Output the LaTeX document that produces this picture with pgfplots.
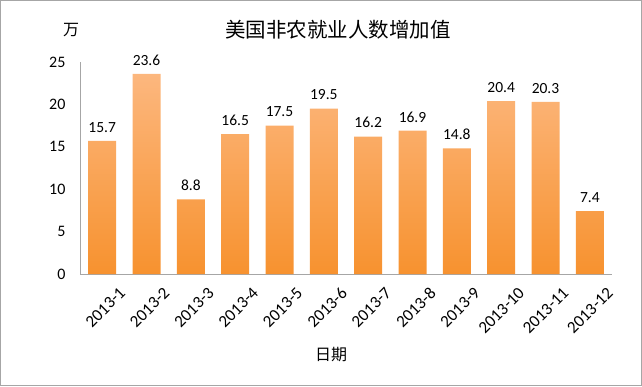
\documentclass[border=0pt]{standalone}
\usepackage{pgfplots}
\pgfplotsset{compat=1.18}
\usepackage{fontspec}
\setmainfont{Carlito}
\newfontfamily\cjk{Noto Sans CJK SC}
\definecolor{bartop}{HTML}{FCB77E}
\definecolor{barbot}{HTML}{F7922F}
\begin{document}
\begin{tikzpicture}[x=1pt,y=1pt]
\draw[gray!70, line width=1.2pt] (0.6,0.6) rectangle (641.4,385.4);
\node[font=\cjk\fontsize{20.5}{20.5}\selectfont] at (338,356) {美国非农就业人数增加值};
\node[font=\cjk\fontsize{16}{16}\selectfont] at (71,356) {万};
\node[font=\cjk\fontsize{16}{16}\selectfont] at (331,31) {日期};
\begin{axis}[
  at={(80pt,112pt)}, anchor=south west,
  scale only axis, width=532pt, height=212pt,
  xmin=-0.5, xmax=11.5, ymin=0, ymax=25,
  ytick={0,5,10,15,20,25},
  xtick=data,
  xticklabels={2013-1,2013-2,2013-3,2013-4,2013-5,2013-6,2013-7,2013-8,2013-9,2013-10,2013-11,2013-12},
  xticklabel style={rotate=45, anchor=north east, font=\fontsize{17}{17}\selectfont, xshift=6pt, yshift=-17pt, inner sep=0pt},
  yticklabel style={font=\fontsize{16}{16}\selectfont, xshift=-11pt},
  /pgf/number format/assume math mode=true,
  tick style={draw=none},
  axis x line*=bottom, axis y line*=left,
  axis line style={-, draw=gray!70, line width=0.8pt},
  ybar, bar width=28pt,
  nodes near coords,
  nodes near coords style={font=\fontsize{15.5}{15.5}\selectfont, /pgf/number format/fixed, /pgf/number format/precision=1, /pgf/number format/fixed zerofill, /pgf/number format/assume math mode=true, yshift=5pt},
]
\addplot[draw=none, top color=bartop, bottom color=barbot] coordinates {
(0,15.7) (1,23.6) (2,8.8) (3,16.5) (4,17.5) (5,19.5) (6,16.2) (7,16.9) (8,14.8) (9,20.4) (10,20.3) (11,7.4)
};
\end{axis}
\end{tikzpicture}
\end{document}
